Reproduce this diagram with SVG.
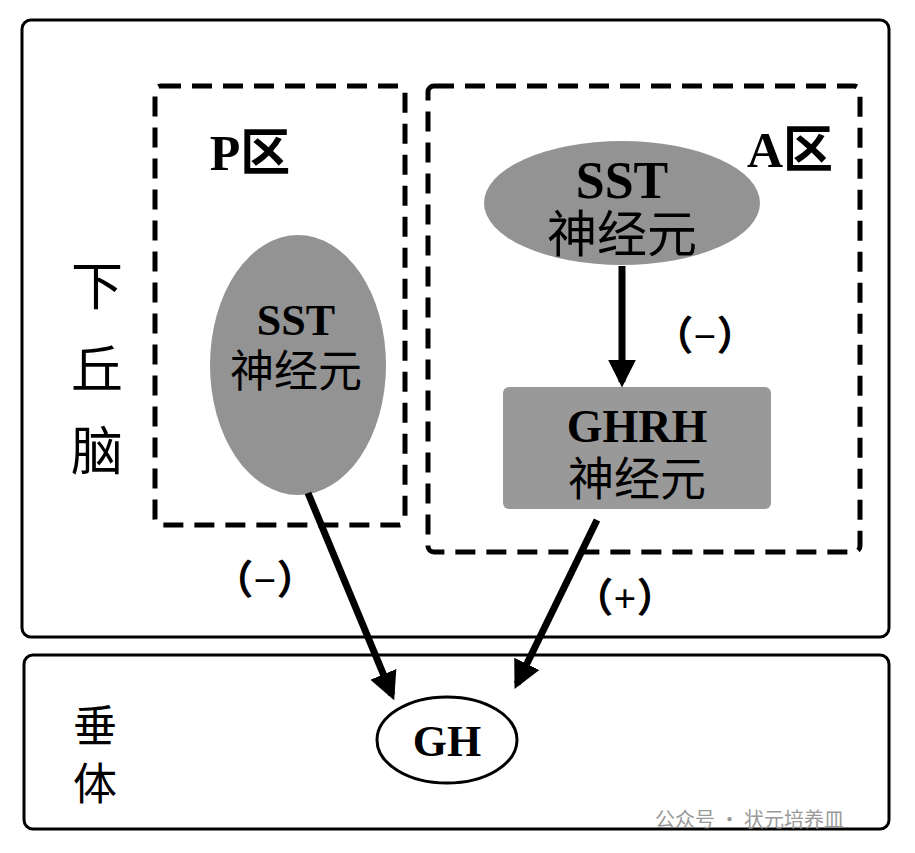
<svg xmlns="http://www.w3.org/2000/svg" width="915" height="853" viewBox="0 0 915 853">
<defs>
<style>
.box{fill:#fff;stroke:#000;stroke-width:3}
.dash{fill:none;stroke:#000;stroke-width:5;stroke-dasharray:20 11}
.t{font-family:"Liberation Serif","Noto Sans CJK SC",serif;fill:#000;text-anchor:middle}
.b{font-weight:bold}
.conn{stroke:#000;stroke-width:7;fill:none;marker-end:url(#ah)}
</style>
<marker id="ah" viewBox="0 0 10 10" refX="8" refY="5" markerWidth="4" markerHeight="4" orient="auto" markerUnits="strokeWidth">
<path d="M0,0 L10,5 L0,10 z" fill="#000"/>
</marker>
</defs>
<rect width="915" height="853" fill="#fff"/>
<g id="hypothalamus">
<rect class="box" x="22" y="20" width="867" height="617" rx="9"/>
<text class="t" x="97" y="305" font-size="52">下</text>
<text class="t" x="97" y="388" font-size="52">丘</text>
<text class="t" x="97" y="470" font-size="52">脑</text>
</g>
<g id="pituitary">
<rect class="box" x="24" y="655" width="865" height="174" rx="9"/>
<text class="t" x="95" y="742" font-size="44">垂</text>
<text class="t" x="95" y="800" font-size="44">体</text>
</g>
<g id="zoneP">
<rect class="dash" x="155" y="86" width="250" height="439" rx="6"/>
<text class="t b" x="250" y="170" font-size="50">P区</text>
</g>
<g id="zoneA">
<rect class="dash" x="428" y="86" width="432" height="466" rx="6"/>
<text class="t b" x="790" y="167" font-size="50">A区</text>
</g>
<g id="sstP">
<ellipse cx="298" cy="365" rx="88" ry="130" fill="#939393"/>
<text class="t b" x="296" y="335" font-size="44">SST</text>
<text class="t" x="296" y="387" font-size="44">神经元</text>
</g>
<g id="sstA">
<ellipse cx="622" cy="203" rx="138" ry="62" fill="#939393"/>
<text class="t b" x="622" y="198" font-size="52">SST</text>
<text class="t" x="622" y="252" font-size="50">神经元</text>
</g>
<g id="ghrh">
<rect x="503" y="387" width="268" height="122" rx="6" fill="#999"/>
<text class="t b" x="637" y="442" font-size="46">GHRH</text>
<text class="t" x="637" y="495" font-size="46">神经元</text>
</g>
<g id="gh">
<ellipse cx="447" cy="740" rx="70" ry="43" fill="#fff" stroke="#000" stroke-width="3"/>
<text class="t b" x="447" y="756" font-size="44">GH</text>
</g>
<g id="connectors">
<line class="conn" x1="622" y1="266" x2="622" y2="382"/>
<line class="conn" x1="308" y1="493" x2="392" y2="695"/>
<line class="conn" x1="597" y1="520" x2="517" y2="684"/>
<text class="t b" x="705" y="350" font-size="40">（−）</text>
<text class="t b" x="265" y="594" font-size="40">（−）</text>
<text class="t b" x="625" y="612" font-size="40">（+）</text>
</g>
<g id="watermark">
<text x="655" y="827" font-family="Noto Sans CJK SC,sans-serif" font-size="20" fill="#999">公众号 · 状元培养皿</text>
</g>
</svg>
